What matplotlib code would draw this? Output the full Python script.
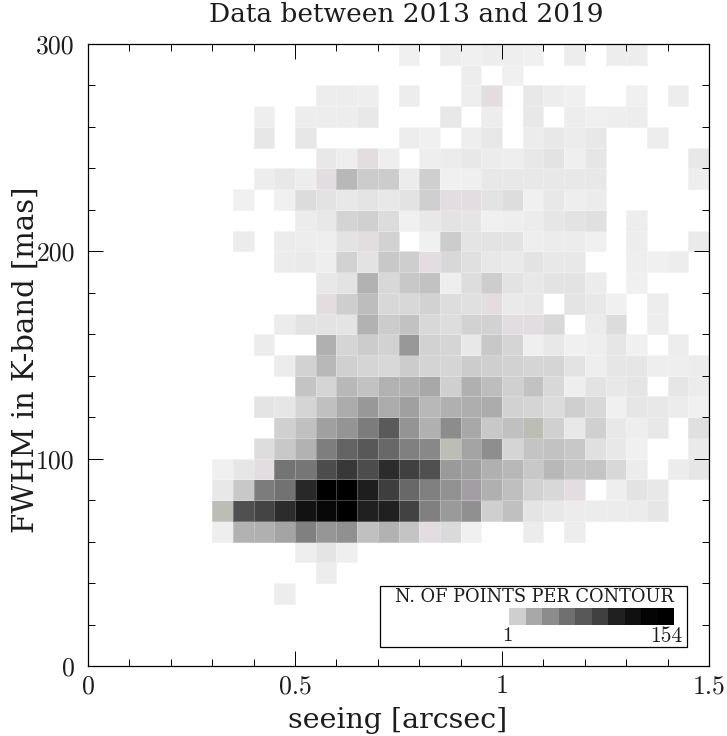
import numpy as np
import matplotlib
matplotlib.use('Agg')
from matplotlib import pyplot as plt
from matplotlib.colors import ListedColormap
from matplotlib.patches import Rectangle

# w = empty cell, P / G / V = the tinted levels of the lookup table
w = 0xff
P = 0xe2
G = 0xbc
V = 0xa3

seeing_edges = np.arange(0, 1.55, 0.05)
fwhm_edges = np.arange(0, 310, 10)

# grey level per cell, top row (290-300 mas) first, columns 0 to 1.5 arcsec
r290 = [w,w,w,w,w,w,w,w,w,w,w,w,w,w,w,0xf0,w,0xed,0xf0,0xed,0xee,0xf0,w,0xed,w,0xed,0xed,w,w,w]
r280 = [w,w,w,w,w,w,w,w,w,w,w,w,w,w,w,w,w,w,0xed,w,0xf0,w,w,w,w,w,w,w,w,w]
r270 = [w,w,w,w,w,w,w,w,w,w,w,0xed,0xed,0xee,w,0xed,w,w,0xee,P,w,0xe8,0xed,0xf0,w,w,0xf0,w,0xed,w]
r260 = [w,w,w,w,w,w,w,w,0xee,w,0xed,0xed,0xed,0xe8,w,w,w,0xe8,w,0xed,w,0xe8,w,0xed,0xf0,0xee,0xed,w,w,w]
r250 = [w,w,w,w,w,w,w,w,0xe7,w,0xe7,w,w,w,w,0xed,0xf0,w,0xee,0xe8,w,0xec,0xe8,0xec,0xe8,w,w,0xed,w,w]
r240 = [w,w,w,w,w,w,w,w,w,w,w,0xe8,0xee,P,0xee,w,0xee,0xec,0xe8,0xec,0xee,0xe8,0xe3,0xef,0xe6,w,w,w,w,0xe8]
r230 = [w,w,w,w,w,w,w,w,0xed,0xe8,0xed,P,0xb8,0xcc,0xcc,0xec,0xcf,0xf0,0xef,0xe8,0xe8,0xe8,0xe8,0xe8,0xe8,w,w,w,w,0xee]
r220 = [w,w,w,w,w,w,w,0xf0,w,0xf0,0xdc,0xe3,0xe8,0xe4,0xe8,0xe3,0xcf,P,P,0xe3,0xdd,0xf0,0xe8,0xee,0xec,w,w,w,w,w]
r210 = [w,w,w,w,w,w,w,w,w,w,0xec,0xe8,0xd4,0xd0,0xdc,0xf0,0xe8,0xe3,0xe5,0xf0,0xee,0xec,0xe6,0xe3,0xe0,w,0xed,w,w,w]
r200 = [w,w,w,w,w,w,w,0xec,w,0xec,0xed,0xee,0xe3,P,0xd2,w,0xf0,0xcc,0xe4,0xe3,0xe3,0xee,0xec,0xec,0xf0,w,0xed,w,w,0xea]
r190 = [w,w,w,w,w,w,w,w,w,0xec,0xea,0xee,0xd2,0xe3,0xc8,0xce,P,0xd8,0xe0,0xe8,0xea,0xe3,0xe8,0xe8,w,w,0xee,0xf0,0xed,w]
r180 = [w,w,w,w,w,w,w,w,w,w,w,0xe8,0xe3,0xb2,0xd8,0xc8,0xc2,0xee,0xdd,0xcd,0xe3,0xe8,0xe3,0xe3,0xec,w,0xf0,w,w,w]
r170 = [w,w,w,w,w,w,w,w,w,w,w,P,0xce,0xbd,0xd8,0xd8,0xd2,0xdd,0xe0,P,0xea,0xe8,w,0xe4,0xe8,0xf0,w,0xed,w,w]
r160 = [w,w,w,w,w,w,w,w,w,0xec,0xe3,0xe3,0xe4,0xb2,0xcc,0xc2,0xd8,0xdd,0xd2,0xd2,P,P,0xd8,w,0xec,0xdc,w,0xed,w,w]
r150 = [w,w,w,w,w,w,w,w,0xec,w,w,0xb0,0xd5,0xcc,0xd2,0x98,0xd2,0xd5,0xe8,0xc8,0xd5,0xef,0xe8,0xf0,0xee,0xe6,0xf0,w,0xed,w]
r140 = [w,w,w,w,w,w,w,w,w,0xec,0xd2,0xb8,0xd0,0xd5,0xd8,0xcc,0xd4,0xd5,0xcc,0xcf,0xd2,0xd5,0xd5,0xe3,0xee,0xe6,0xe6,0xee,0xee,0xec]
r130 = [w,w,w,w,w,w,w,w,w,w,0xc4,0xd5,0xb8,0xc2,0xb2,0xb0,0xa8,0xcf,0xb0,0xbd,0xd0,0xc2,0xd8,0xee,0xe3,0xe8,0xe5,w,0xe6,0xec]
r120 = [w,w,w,w,w,w,w,w,0xe4,0xe6,0xd5,0xc0,0xac,0x98,0xac,0xa0,0xb8,0xb0,0xae,0xac,0xd2,0xd5,0xdc,0xcf,0xd8,0xf0,0xe6,0xe8,0xec,0xf0]
r110 = [w,w,w,w,w,w,w,w,w,0xd0,0xc0,0xa0,0x94,0x7c,0x5a,0x94,0xb0,0x8c,0xa8,0xc8,0xc0,G,0xd0,0xe8,0xd0,0xe8,0xee,0xe8,w,0xe0]
r100 = [w,w,w,w,w,w,w,w,0xdd,0xc8,0xb2,0x7e,0x64,0x58,0x68,0x80,0x88,G,0xa4,0x8e,0xd5,0xc4,0xc2,0xc8,0xe0,0xe8,0xf0,w,w,0xea]
r090 = [w,w,w,w,w,w,0xf0,0xe6,P,0x74,0x76,0x4c,0x38,0x4c,0x2c,0x40,0x50,0x9a,0xa0,0xb0,0xb8,0xc8,0xb8,0xc4,0xc4,0xd8,0xec,w,0xec,0xe6]
r080 = [w,w,w,w,w,w,0xe8,0xc8,0x7c,0x72,0x28,0x00,0x00,0x1e,0x3e,0x68,0x80,0x92,V,0xb0,0xbf,0xd2,0xd8,P,w,0xee,0xe3,0xe8,w,w]
r070 = [w,w,w,w,w,w,G,0x50,0x44,0x2c,0x12,0x08,0x00,0x20,0x20,0x42,0x80,0x9a,0x90,0xcf,0xc0,0xe4,0xe8,0xec,0xec,0xec,0xec,0xe6,w,w]
r060 = [w,w,w,w,w,w,0xee,0xb2,0xb0,0xa4,0x80,0x96,0x90,0xc0,0xb2,0xc4,P,0xda,0xf0,w,w,0xec,w,0xed,w,w,w,w,w,w]
r050 = [w,w,w,w,w,w,w,w,w,w,0xee,0xe4,0xef,w,w,w,w,w,w,w,w,w,w,w,w,w,w,w,w,w]
r040 = [w,w,w,w,w,w,w,w,w,w,w,0xed,w,w,w,w,w,w,w,w,w,w,w,w,w,w,w,w,w,w]
r030 = [w,w,w,w,w,w,w,w,w,0xed,w,w,w,w,w,w,w,w,w,w,w,w,w,w,w,w,w,w,w,w]
r020 = [w] * 30
r010 = [w] * 30
r000 = [w] * 30

# legend ramp
legend_levels = [0xcf, 0xa8, 0x8c, 0x70, 0x58, 0x40, 0x20, 0x10, 0x04, 0x00]

x_ticks = [0, 0.5, 1, 1.5]
x_labels = ['0', '0.5', '1', '1.5']
y_ticks = [0, 100, 200, 300]
y_labels = ['0', '100', '200', '300']

grid = np.array([r000, r010, r020, r030, r040, r050, r060, r070, r080, r090,
                 r100, r110, r120, r130, r140, r150, r160, r170, r180, r190,
                 r200, r210, r220, r230, r240, r250, r260, r270, r280, r290], dtype=float)
grid = np.ma.masked_equal(grid, w)

# grey lookup table with the few tinted levels of the original
lut = np.ones((256, 4))
lut[:, 0] = lut[:, 1] = lut[:, 2] = np.arange(256) / 255
lut[P, :3] = [0xe3 / 255, 0xdd / 255, 0xe1 / 255]
lut[G, :3] = [0xbc / 255, 0xbd / 255, 0xb5 / 255]
lut[V, :3] = [0xa3 / 255, 0x9e / 255, 0xa3 / 255]
cmap = ListedColormap(lut)

plt.rcParams['font.family'] = ['cmr10', 'DejaVu Serif']
plt.rcParams['axes.formatter.use_mathtext'] = True
plt.rcParams['axes.unicode_minus'] = False

W, H = 727, 736
ink = '#1c1c1c'
label_font = 'DejaVu Serif'

fig = plt.figure(figsize=(W / 100, H / 100), dpi=100)
ax = fig.add_axes([88 / W, (H - 666) / H, 621 / W, 622 / H])

ax.pcolormesh(seeing_edges, fwhm_edges, grid, cmap=cmap, vmin=0, vmax=255,
              edgecolors=(1, 1, 1, 0.25), linewidth=0.5)

ax.set_xlim(0, 1.5)
ax.set_ylim(0, 300)
ax.set_xticks(x_ticks)
ax.set_xticklabels(x_labels)
ax.set_yticks(y_ticks)
ax.set_yticklabels(y_labels)
ax.set_xticks(np.arange(0, 1.5, 0.1), minor=True)
ax.set_yticks(np.arange(0, 300, 20), minor=True)
ax.tick_params(which='major', direction='in', length=10.5, width=0.7, top=True, right=True,
               labelsize=18.5, labelcolor=ink)
ax.tick_params(which='minor', direction='in', length=5, width=0.7, top=True, right=True)
ax.tick_params(axis='x', which='major', pad=6)
ax.tick_params(axis='y', which='major', pad=9.5)
for s in ax.spines.values():
    s.set_linewidth(0.9)

fig.text(406 / W, (H - 15) / H, 'Data between 2013 and 2019', ha='center', va='center',
         fontsize=19, family=label_font, color=ink)
fig.text(398 / W, (H - 721) / H, 'seeing [arcsec]', ha='center', va='center',
         fontsize=20.5, family=label_font, color=ink)
fig.text(26 / W, (H - 360) / H, 'FWHM in K-band [mas]', ha='center', va='center', rotation=90,
         fontsize=21, family=label_font, color=ink)

# legend box
ax.add_patch(Rectangle(((380 - 88) / 621, (666 - 647) / 622), 307 / 621, 61 / 622, transform=ax.transAxes,
                       facecolor='white', edgecolor='black', linewidth=0.9, zorder=5))
fig.text(534 / W, (H - 597) / H, 'N. OF POINTS PER CONTOUR', ha='center', va='center',
         fontsize=12.8, family=label_font, color=ink, zorder=6)
cax = fig.add_axes([509 / W, (H - 625) / H, 165 / W, 17 / H], zorder=6)
cax.pcolormesh(np.arange(len(legend_levels) + 1), [0, 1], [legend_levels], cmap=cmap, vmin=0, vmax=255)
cax.axis('off')
fig.text(507 / W, (H - 636) / H, '1', ha='center', va='center', fontsize=15, color=ink)
fig.text(682 / W, (H - 636) / H, '154', ha='right', va='center', fontsize=15.5, color=ink)

plt.savefig('out.png', dpi=100)
